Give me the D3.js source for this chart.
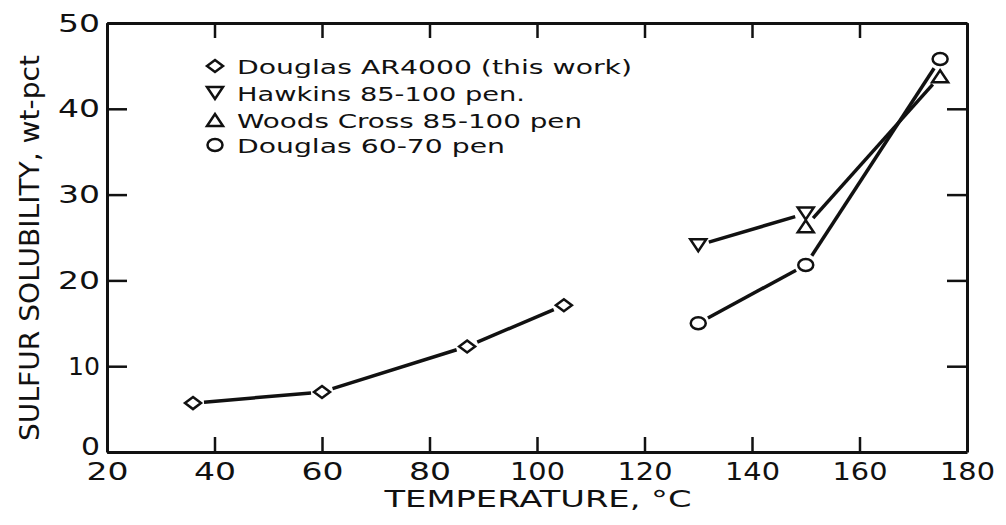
<!DOCTYPE html>
<html>
<head>
<meta charset="utf-8">
<script src="https://cdn.jsdelivr.net/npm/d3@7"></script>
<style>
  html, body { margin: 0; padding: 0; background: #fff; }
  svg { display: block; }
  text { font-family: "DejaVu Sans", sans-serif; fill: #111; }
</style>
</head>
<body>
<svg id="chart" width="1006" height="525"></svg>
<script>
// Sulfur solubility in asphalt vs temperature
const xTicks = [20, 40, 60, 80, 100, 120, 140, 160, 180];
const yTicks = [0, 10, 20, 30, 40, 50];

const douglasAR4000Temp = [36, 60, 87, 105];
const douglasAR4000Sol  = [5.7, 7.0, 12.3, 17.1];

const hawkinsTemp = [130, 150];
const hawkinsSol  = [24.1, 27.8];

const woodsCrossTemp = [150, 175];
const woodsCrossSol  = [26.3, 43.8];

const douglas6070Temp = [130, 150, 175];
const douglas6070Sol  = [15.0, 21.8, 45.8];

const seriesNames = [
  "Douglas AR4000 (this work)",
  "Hawkins 85-100 pen.",
  "Woods Cross 85-100 pen",
  "Douglas 60-70 pen"
];
const seriesSymbols = ["diamond", "triDown", "triUp", "circle"];

const svg = d3.select("#chart");
const ink = "#111";

const x = d3.scaleLinear().domain([20, 180]).range([107, 967]);
const y = d3.scaleLinear().domain([0, 50]).range([452, 23]);

// approximate widths of the stencil-style numerals
function labelWidth(s) {
  let w = 0;
  for (const c of s) w += (c === "1") ? 9 : 19;
  return w + 4 * (s.length - 1);
}

function styleAxis(g, showLabels) {
  g.select(".domain").attr("stroke", ink).attr("stroke-width", 3);
  g.selectAll(".tick line").attr("stroke", ink).attr("stroke-width", 2.5);
  if (showLabels) {
    g.selectAll(".tick text")
      .attr("font-size", 25)
      .attr("fill", ink)
      .attr("font-family", "DejaVu Sans, sans-serif")
      .attr("textLength", d => labelWidth(String(d)))
      .attr("lengthAdjust", "spacingAndGlyphs");
  } else {
    g.selectAll(".tick text").remove();
  }
}

// frame with inward ticks
svg.append("g").attr("transform", `translate(0,${y(0)})`)
  .call(d3.axisBottom(x).tickValues(xTicks).tickSizeInner(-15).tickSizeOuter(0).tickPadding(10))
  .call(g => styleAxis(g, true));
svg.append("g").attr("transform", `translate(0,${y(50)})`)
  .call(d3.axisTop(x).tickValues(xTicks).tickSizeInner(-15).tickSizeOuter(0))
  .call(g => styleAxis(g, false));
svg.append("g").attr("transform", `translate(${x(20)},0)`)
  .call(d3.axisLeft(y).tickValues(yTicks).tickSizeInner(-20).tickSizeOuter(0).tickPadding(7))
  .call(g => styleAxis(g, true))
  // the zero label sits just above the corner
  .call(g => g.selectAll(".tick text").filter(d => d === 0).attr("dy", "0.1em"));
svg.append("g").attr("transform", `translate(${x(180)},0)`)
  .call(d3.axisRight(y).tickValues(yTicks).tickSizeInner(-20).tickSizeOuter(0))
  .call(g => styleAxis(g, false));

// marker shapes (open symbols)
function markerPath(type) {
  const w = 8, h = 6;
  switch (type) {
    case "diamond": return `M0,${-h} L${w},0 L0,${h} L${-w},0 Z`;
    case "triDown": return `M${-w},${-h} L${w},${-h} L0,${h} Z`;
    case "triUp":   return `M${-w},${h} L${w},${h} L0,${-h} Z`;
  }
  return null;
}
function drawMarker(g, type, cx, cy) {
  if (type === "circle") {
    g.append("ellipse").attr("cx", cx).attr("cy", cy).attr("rx", 7.5).attr("ry", 6)
      .attr("fill", "#fff").attr("stroke", ink).attr("stroke-width", 2.5);
  } else {
    g.append("path").attr("d", markerPath(type))
      .attr("transform", `translate(${cx},${cy})`)
      .attr("fill", "#fff").attr("stroke", ink).attr("stroke-width", 2.5)
      .attr("stroke-linejoin", "miter");
  }
}

const series = [
  { temp: douglasAR4000Temp, sol: douglasAR4000Sol, symbol: seriesSymbols[0] },
  { temp: hawkinsTemp,       sol: hawkinsSol,       symbol: seriesSymbols[1] },
  { temp: woodsCrossTemp,    sol: woodsCrossSol,    symbol: seriesSymbols[2] },
  { temp: douglas6070Temp,   sol: douglas6070Sol,   symbol: seriesSymbols[3] }
];

const plot = svg.append("g");
const gap = 11;
series.forEach(s => {
  const pts = s.temp.map((t, i) => [x(t), y(s.sol[i])]);
  // connecting segments stop short of each symbol
  for (let i = 0; i < pts.length - 1; i++) {
    const [x0, y0] = pts[i], [x1, y1] = pts[i + 1];
    const len = Math.hypot(x1 - x0, y1 - y0);
    const ux = (x1 - x0) / len, uy = (y1 - y0) / len;
    plot.append("line")
      .attr("x1", x0 + ux * gap).attr("y1", y0 + uy * gap)
      .attr("x2", x1 - ux * gap).attr("y2", y1 - uy * gap)
      .attr("stroke", ink).attr("stroke-width", 3.5).attr("stroke-linecap", "butt");
  }
});
series.forEach(s => {
  s.temp.forEach((t, i) => drawMarker(plot, s.symbol, x(t), y(s.sol[i])));
});

// legend
const legendRowsY = [66, 93, 120, 145];
const legendWidths = [395, 288, 345, 268];
const legend = svg.append("g");
seriesNames.forEach((name, i) => {
  drawMarker(legend, seriesSymbols[i], 215, legendRowsY[i]);
  legend.append("text")
    .attr("x", 237).attr("y", legendRowsY[i] + 7.5)
    .attr("font-size", 20)
    .attr("textLength", legendWidths[i])
    .attr("lengthAdjust", "spacingAndGlyphs")
    .text(name);
});

// axis titles
svg.append("text")
  .attr("x", 538).attr("y", 507)
  .attr("text-anchor", "middle")
  .attr("font-size", 23)
  .attr("textLength", 307)
  .attr("lengthAdjust", "spacingAndGlyphs")
  .text("TEMPERATURE, °C");

svg.append("text")
  .attr("transform", "translate(39,248) rotate(-90)")
  .attr("text-anchor", "middle")
  .attr("font-size", 27)
  .attr("textLength", 386)
  .attr("lengthAdjust", "spacingAndGlyphs")
  .text("SULFUR SOLUBILITY, wt-pct");
</script>
</body>
</html>
